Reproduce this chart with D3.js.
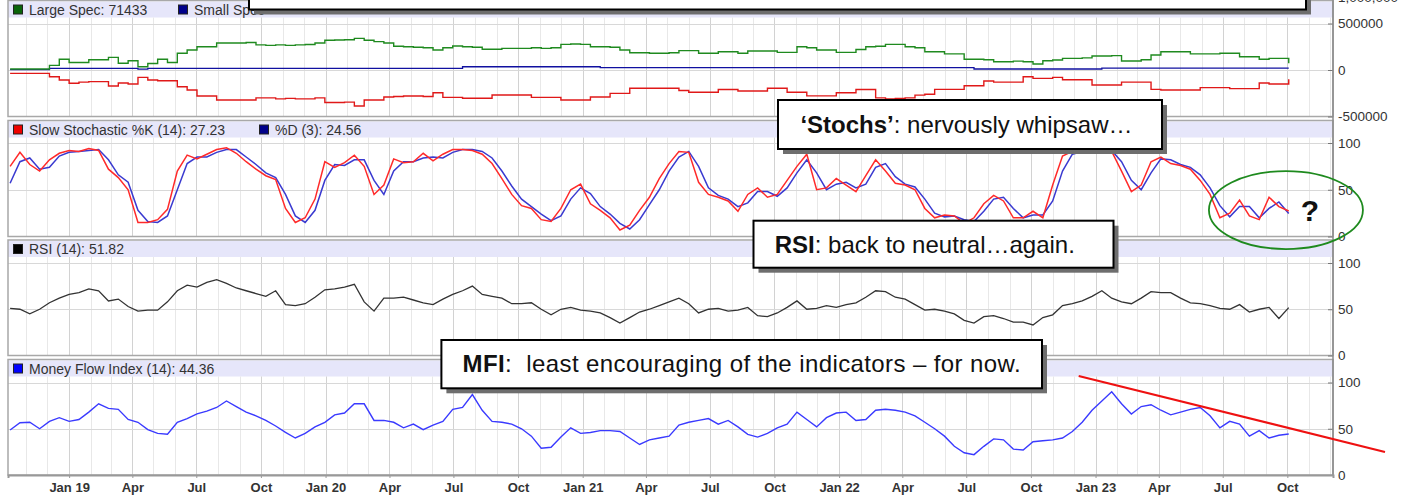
<!DOCTYPE html>
<html><head><meta charset="utf-8">
<script src="https://cdn.jsdelivr.net/npm/d3@7"></script>
<style>
html,body{margin:0;padding:0;background:#fff;}
svg{display:block;font-family:"Liberation Sans",Arial,sans-serif;}
</style></head><body>
<svg id="c" width="1410" height="498"></svg>
<script>
// ---------- DATA (bi-weekly readings) ----------
const startDate = "2018-10-09";
const stepDays = 14;

const largeSpec = [
 10000,10000,10000,10000,50000,115000,80000,80000,110000,110000,
 136000,72000,100000,35000,70000,115000,80000,180000,215000,250000,
 250000,290000,290000,290000,295000,270000,265000,270000,265000,270000,
 275000,290000,320000,322000,325000,340000,320000,305000,290000,255000,
 250000,245000,240000,215000,240000,258000,250000,245000,223000,223000,
 233000,233000,233000,240000,233000,240000,276000,280000,276000,250000,
 250000,245000,215000,186000,186000,180000,180000,185000,208000,208000,
 180000,180000,197000,197000,180000,205000,205000,205000,190000,190000,
 250000,240000,215000,215000,190000,190000,220000,250000,255000,276000,
 276000,250000,240000,197000,197000,173000,173000,115000,115000,110000,
 89000,89000,95000,89000,64000,100000,107000,125000,125000,130000,
 150000,150000,155000,97000,97000,110000,161000,197000,197000,197000,
 173000,173000,173000,180000,180000,143000,143000,115000,125000,125000,
 71433];
const smallSpec = [
 5000,5000,5000,5000,18000,18000,18000,18000,18000,18000,
 18000,18000,18000,10000,18000,18000,18000,18000,18000,18000,
 18000,18000,18000,18000,18000,18000,18000,18000,18000,18000,
 18000,18000,18000,18000,18000,18000,18000,18000,18000,18000,
 18000,18000,18000,18000,18000,18000,35000,35000,35000,35000,
 35000,35000,35000,35000,35000,35000,35000,35000,35000,35000,
 25000,25000,25000,25000,25000,25000,25000,25000,25000,25000,
 25000,25000,25000,25000,25000,25000,25000,25000,25000,25000,
 25000,25000,25000,25000,25000,25000,25000,25000,25000,25000,
 25000,25000,25000,25000,25000,25000,25000,25000,11000,11000,
 11000,11000,11000,11000,11000,11000,11000,11000,11000,11000,
 11000,20000,20000,20000,20000,20000,20000,20000,20000,20000,
 20000,20000,20000,20000,20000,20000,20000,20000,20000,20000,
 20000];
const commercials = [
 -36000,-36000,-36000,-36000,-72000,-107000,-143000,-130000,-125000,-125000,
 -172000,-140000,-150000,-79000,-107000,-115000,-115000,-180000,-215000,-280000,
 -280000,-323000,-323000,-323000,-323000,-300000,-300000,-310000,-305000,-310000,
 -310000,-300000,-350000,-350000,-345000,-387000,-323000,-323000,-290000,-285000,
 -280000,-280000,-285000,-244000,-294000,-294000,-304000,-304000,-304000,-269000,
 -269000,-269000,-269000,-294000,-294000,-294000,-323000,-323000,-323000,-290000,
 -290000,-251000,-251000,-197000,-197000,-197000,-197000,-197000,-220000,-240000,
 -240000,-240000,-210000,-210000,-225000,-225000,-225000,-197000,-197000,-240000,
 -240000,-278000,-278000,-278000,-245000,-245000,-210000,-210000,-300000,-312000,
 -305000,-300000,-270000,-260000,-208000,-208000,-208000,-170000,-170000,-118000,
 -130000,-130000,-130000,-72000,-90000,-90000,-79000,-105000,-105000,-105000,
 -161000,-161000,-161000,-130000,-130000,-130000,-208000,-215000,-215000,-215000,
 -215000,-190000,-190000,-190000,-200000,-200000,-200000,-140000,-150000,-150000,
 -100000];
const stochK = [
 75,90,77,70,82,89,92,91,94,92,
 72,63,50,15,15,18,29,70,87,83,
 88,93,95,89,80,72,65,61,30,15,
 20,40,80,74,79,87,75,45,55,83,
 79,80,89,81,88,93,93,92,88,78,
 62,45,33,30,18,16,30,50,56,35,
 28,20,7,12,28,42,62,78,91,90,
 58,45,42,38,27,45,52,42,45,60,
 75,88,50,52,62,55,48,65,82,70,
 57,55,50,30,20,23,22,14,20,35,
 44,38,20,20,27,20,55,86,91,92,
 93,93,91,70,48,55,80,85,78,76,
 72,60,45,20,25,39,22,18,42,32,
 27.23];
const stochD = [
 57,80,84,72,74,86,90,91,92,93,
 82,66,58,28,16,15,22,50,78,85,
 85,90,93,93,85,77,68,63,45,22,
 15,28,60,77,76,82,82,60,45,70,
 80,80,84,85,84,90,93,93,91,84,
 70,54,40,32,24,17,22,40,52,46,
 32,24,14,8,18,34,50,70,85,91,
 75,52,44,40,32,36,48,48,43,52,
 68,82,68,50,56,58,52,56,74,78,
 64,56,53,40,25,21,22,18,16,27,
 40,42,30,20,23,23,38,70,88,91,
 92,93,92,80,60,50,68,83,82,77,
 74,66,52,33,21,32,32,20,30,37,
 24.56];
const rsi = [
 51,50,45,50,57,62,66,68,72,70,
 59,61,53,48,49,49,58,70,76,74,
 79,82,78,73,70,67,64,70,55,54,
 56,63,71,72,74,77,58,48,62,62,
 63,60,57,55,61,66,70,75,66,64,
 62,56,56,57,50,44,50,52,49,48,
 46,41,35,41,47,50,54,58,62,56,
 46,50,51,48,49,52,43,42,46,52,
 59,50,51,54,52,55,57,63,70,69,
 63,61,55,49,50,48,45,38,35,42,
 43,40,36,36,33,41,44,54,56,59,
 64,70,62,58,56,62,69,68,68,62,
 57,56,54,51,50,55,47,50,52,40,
 51.82];
const mfi = [
 48.6,56.5,57,50,58,62,58,60,68,77,
 72,71,60,57,49,45,44,57,61,66,
 69,73,80,74,68,64,59,53,46,40,
 45,52,57,65,67,77,77,59,59,57,
 51,55,49,54,58,71,73,87,70,58,
 57,55,50,42,29,30,41,51,45,46,
 48,48,47,40,33,38,40,42,54,57,
 59,61,55,59,52,44,41,45,51,55,
 68,60,52,62,67,68,59,60,70,71,
 70,68,64,57,50,42,31,24,22,31,
 39,38,28,27,36,37,38,40,47,57,
 70,80,90,77,66,74,76,70,65,68,
 71,73,64,51,58,55,42,48,40,43,
 44.36];

const xTickDates = ["2019-01-01","2019-04-01","2019-07-01","2019-10-01","2020-01-01","2020-04-01","2020-07-01","2020-10-01","2021-01-01","2021-04-01","2021-07-01","2021-10-01","2022-01-01","2022-04-01","2022-07-01","2022-10-01","2023-01-01","2023-04-01","2023-07-01","2023-10-01"];
const xTickLabels = ["Jan 19","Apr","Jul","Oct","Jan 20","Apr","Jul","Oct","Jan 21","Apr","Jul","Oct","Jan 22","Apr","Jul","Oct","Jan 23","Apr","Jul","Oct"];
const cotTicks = [500000, 0, -500000];
const cotTopLabel = "1,000,000";
const oscTicks = [100, 50, 0];

// annotation anchors (data space)
const mfiTrend = [{date:"2022-12-08", value:107}, {date:"2024-02-17", value:24.9}];
const stochCircle = {date:"2023-09-29", value:28.3};
const stochQuestion = {date:"2023-11-02", value:16.6};

// ---------- SETUP ----------
const parse = d3.timeParse("%Y-%m-%d");
const t0 = parse(startDate);
const dates = largeSpec.map((_, i) => d3.timeDay.offset(t0, i * stepDays));

const svg = d3.select("#c");
const xL = 8, xR = 1333;
const x = d3.scaleTime().domain([parse("2018-10-06"), parse("2023-12-05")]).range([xL, xR]);

const yCot = d3.scaleLinear().domain([-500000, 500000]).range([116.5, 23.5]);
const yStoch = d3.scaleLinear().domain([0, 100]).range([236.5, 143]);
const yRsi = d3.scaleLinear().domain([0, 100]).range([355.5, 263]);
const yMfi = d3.scaleLinear().domain([0, 100]).range([475, 382.5]);

const panels = [
  {top: 0.5, bottom: 116.5, y: yCot, ticks: cotTicks, grid: [500000, 0],
   legend: [{label: "Large Spec: 71433", color: "#0a640a", x: 13.5},
            {label: "Small Spec", color: "#00008b", x: 178.5}]},
  {top: 120.5, bottom: 236.5, y: yStoch, ticks: oscTicks, grid: [100, 50],
   legend: [{label: "Slow Stochastic %K (14): 27.23", color: "#ee0000", x: 13.5},
            {label: "%D (3): 24.56", color: "#00008b", x: 259.5}]},
  {top: 240, bottom: 355.5, y: yRsi, ticks: oscTicks, grid: [100, 50],
   legend: [{label: "RSI (14): 51.82", color: "#000000", x: 13.5}]},
  {top: 359.5, bottom: 475, y: yMfi, ticks: oscTicks, grid: [100, 50],
   legend: [{label: "Money Flow Index (14): 44.36", color: "#0000ff", x: 13.5}]}
];

const months = d3.timeMonth.range(x.domain()[0], x.domain()[1]);

panels.forEach((p, pi) => {
  const g = svg.append("g");
  g.append("rect").attr("x", xL).attr("y", p.top + 1).attr("width", xR - xL).attr("height", 16)
    .attr("fill", "#e6e6fa");
  g.selectAll("line.vg").data(months).join("line")
    .attr("x1", d => Math.round(x(d)) + 0.5).attr("x2", d => Math.round(x(d)) + 0.5)
    .attr("y1", p.top + 17).attr("y2", p.bottom)
    .attr("stroke", d => d.getMonth() % 3 === 0 ? "#d2d2d2" : "#e8e8e8").attr("stroke-width", 1);
  g.selectAll("line.hg").data(p.grid).join("line")
    .attr("x1", xL).attr("x2", xR)
    .attr("y1", d => Math.round(p.y(d)) + 0.5).attr("y2", d => Math.round(p.y(d)) + 0.5)
    .attr("stroke", "#d8d8d8");
  g.append("rect").attr("x", xL).attr("y", p.top).attr("width", xR - xL).attr("height", p.bottom - p.top)
    .attr("fill", "none").attr("stroke", "#a8a8a8").attr("stroke-width", 1.5);
  const inner = d3.axisLeft(p.y).tickValues(p.ticks).tickSize(5).tickFormat("");
  const ga = svg.append("g").attr("transform", `translate(${xR},0)`).call(inner);
  ga.select(".domain").remove();
  ga.selectAll("line").attr("stroke", "#777");
  const lab = d3.axisRight(p.y).tickValues(p.ticks).tickSize(0).tickPadding(5)
    .tickFormat(d => String(d));
  const gl = svg.append("g").attr("transform", `translate(${xR},0)`).call(lab);
  gl.select(".domain").remove();
  gl.selectAll("text").attr("font-size", 13.5).attr("fill", "#333")
    .attr("font-family", '"Liberation Sans",Arial,sans-serif');
  p.legend.forEach(l => {
    g.append("rect").attr("x", l.x).attr("y", p.top + 4.5).attr("width", 9).attr("height", 9)
      .attr("fill", l.color).attr("stroke", "#222").attr("stroke-width", 1);
    g.append("text").attr("x", l.x + 15.5).attr("y", p.top + 14)
      .attr("font-size", 14).attr("fill", "#333").text(l.label);
  });
});

// top partial label (cut at the top edge, as in the reference)
svg.append("text").attr("x", xR + 5).attr("y", 2).attr("font-size", 13.5).attr("fill", "#333").text(cotTopLabel);

svg.append("line").attr("x1", xR).attr("x2", xR).attr("y1", 0).attr("y2", 476)
  .attr("stroke", "#8a8a8a").attr("stroke-width", 1.5);

// ---------- SERIES ----------
const stepLine = y => d3.line().x((d, i) => x(dates[i])).y(d => y(d)).curve(d3.curveStepAfter);
const polyLine = y => d3.line().x((d, i) => x(dates[i])).y(d => y(d));

svg.append("path").datum(smallSpec).attr("d", stepLine(yCot)).attr("fill", "none").attr("stroke", "#1010a0").attr("stroke-width", 1.3);
svg.append("path").datum(largeSpec).attr("d", stepLine(yCot)).attr("fill", "none").attr("stroke", "#1f8a1f").attr("stroke-width", 1.4);
svg.append("path").datum(commercials).attr("d", stepLine(yCot)).attr("fill", "none").attr("stroke", "#e01818").attr("stroke-width", 1.4);

svg.append("path").datum(stochD).attr("d", polyLine(yStoch)).attr("fill", "none").attr("stroke", "#3a3ad0").attr("stroke-width", 1.5);
svg.append("path").datum(stochK).attr("d", polyLine(yStoch)).attr("fill", "none").attr("stroke", "#ff2a2a").attr("stroke-width", 1.5);

svg.append("path").datum(rsi).attr("d", polyLine(yRsi)).attr("fill", "none").attr("stroke", "#333").attr("stroke-width", 1.3);
svg.append("path").datum(mfi).attr("d", polyLine(yMfi)).attr("fill", "none").attr("stroke", "#3a3aff").attr("stroke-width", 1.4);

// ---------- X AXIS ----------
const xa = d3.axisBottom(x).tickValues(xTickDates.map(parse)).tickSize(3).tickPadding(5)
  .tickFormat((d, i) => xTickLabels[i]);
const gx = svg.append("g").attr("transform", "translate(0,475)").call(xa);
gx.select(".domain").attr("stroke", "#999").attr("stroke-width", 2);
gx.selectAll("line").attr("stroke", "#999");
gx.selectAll("text").attr("font-size", 13).attr("font-weight", "bold").attr("fill", "#333")
  .attr("font-family", '"Liberation Sans",Arial,sans-serif');

// ---------- ANNOTATIONS ----------
svg.append("line")
  .attr("x1", x(parse(mfiTrend[0].date))).attr("y1", yMfi(mfiTrend[0].value))
  .attr("x2", x(parse(mfiTrend[1].date))).attr("y2", yMfi(mfiTrend[1].value))
  .attr("stroke", "#ee1111").attr("stroke-width", 2.2);

svg.append("ellipse").attr("cx", x(parse(stochCircle.date))).attr("cy", yStoch(stochCircle.value))
  .attr("rx", 77).attr("ry", 39).attr("fill", "none").attr("stroke", "#1e8a1e").attr("stroke-width", 1.8);
svg.append("text").attr("x", x(parse(stochQuestion.date))).attr("y", yStoch(stochQuestion.value))
  .attr("text-anchor", "middle").attr("font-size", 30).attr("font-weight", "bold").attr("fill", "#111").text("?");

function noteBox(bx, by, bw, bh, parts, tx, ty, fs, tl) {
  const g = svg.append("g");
  g.append("rect").attr("x", bx + 5).attr("y", by + 5).attr("width", bw).attr("height", bh).attr("fill", "#6e6e6e");
  g.append("rect").attr("x", bx).attr("y", by).attr("width", bw).attr("height", bh)
    .attr("fill", "#fff").attr("stroke", "#000").attr("stroke-width", 2);
  if (parts) {
    const t = g.append("text").attr("x", tx).attr("y", ty).attr("font-size", fs).attr("fill", "#111")
      .style("white-space", "pre");
    if (tl) t.attr("textLength", tl).attr("lengthAdjust", "spacing");
    parts.forEach(pt => t.append("tspan").attr("font-weight", pt.b ? "bold" : "normal").text(pt.t));
  }
}
noteBox(249, -30, 1057, 39.5, null);
noteBox(778, 100, 384, 49, [{t: "‘Stochs’", b: true}, {t: ": nervously whipsaw…"}], 800.4, 132.7, 24);
noteBox(753.5, 220.7, 360, 47, [{t: "RSI", b: true}, {t: ": back to neutral…again."}], 774.7, 252.7, 24);
noteBox(441.4, 340, 600.6, 48.3, [{t: "MFI", b: true}, {t: ":  least encouraging of the indicators – for now."}], 462.6, 371.7, 24, 558);
</script>
</body></html>
